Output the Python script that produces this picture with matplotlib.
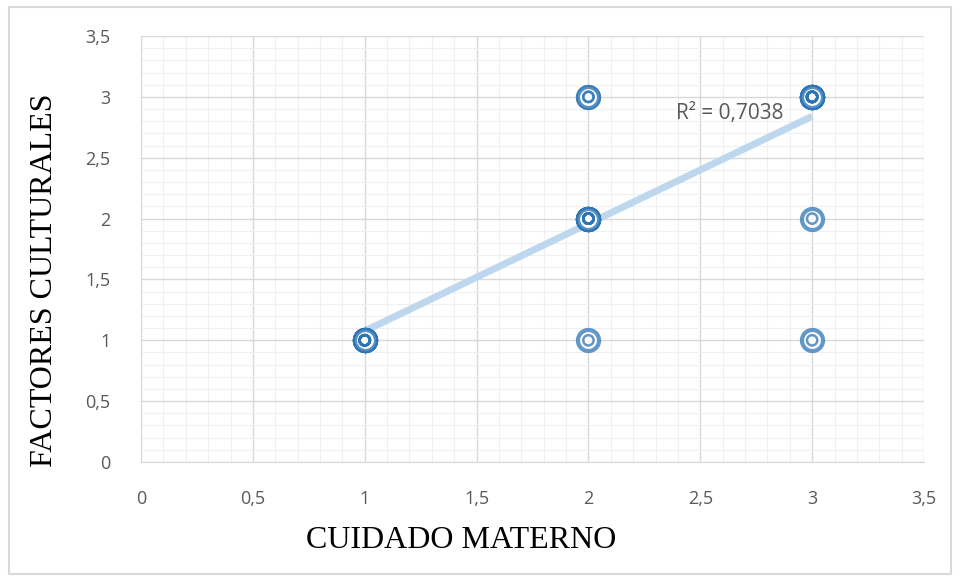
import matplotlib.pyplot as plt
from matplotlib.ticker import MultipleLocator, FuncFormatter
from matplotlib.patches import Rectangle
import numpy as np

# observations (repeated pairs overlap on the grid)
pairs = [(1, 1)] * 10 + [(2, 1)] * 1 + [(2, 2)] * 10 + [(2, 3)] * 2 \
    + [(3, 1)] * 1 + [(3, 2)] * 1 + [(3, 3)] * 12
cuidado = [p[0] for p in pairs]
factores = [p[1] for p in pairs]
r2_label = "R² = 0,7038"
ticks = [0, 0.5, 1, 1.5, 2, 2.5, 3, 3.5]

blue = '#2E75B6'
grey = '#595959'

fig = plt.figure(figsize=(9.6, 5.81), dpi=100)
ax = fig.add_axes([0.1469, 0.2048, 0.8156, 0.7332])

# trend line (linear fit)
m, b = np.polyfit(cuidado, factores, 1)
xs = np.array([min(cuidado), max(cuidado)])
ax.plot(xs, m * xs + b, color='#BDD7EE', lw=5, solid_capstyle='butt', zorder=2)

# markers: outer ring + inner ring
ax.scatter(cuidado, factores, s=230, facecolor='white', edgecolor=blue,
           linewidths=3, alpha=0.75, zorder=3)
ax.scatter(cuidado, factores, s=55, facecolor='none', edgecolor=blue,
           linewidths=1.8, alpha=0.75, zorder=4)

ax.text(2.39, 2.86, r2_label, fontsize=15, color=grey, va='center',
        family='Open Sans', zorder=5)

ax.set_xlim(0, 3.5)
ax.set_ylim(0, 3.5)
ax.set_xticks(ticks)
ax.set_yticks(ticks)
fmt = FuncFormatter(lambda v, p: ('%g' % v).replace('.', ','))
ax.xaxis.set_major_formatter(fmt)
ax.yaxis.set_major_formatter(fmt)
ax.xaxis.set_minor_locator(MultipleLocator(0.1))
ax.yaxis.set_minor_locator(MultipleLocator(0.1))

ax.grid(which='major', color='#D9D9D9', lw=1)
ax.grid(which='minor', color='#F0F0F0', lw=0.8)
ax.set_axisbelow(True)
for s in ax.spines.values():
    s.set_visible(False)
ax.spines['left'].set_visible(True)
ax.spines['bottom'].set_visible(True)
ax.spines['left'].set_color('#D9D9D9')
ax.spines['bottom'].set_color('#D9D9D9')

ax.tick_params(which='both', length=0)
ax.tick_params(axis='x', pad=20, labelsize=13, labelcolor=grey)
ax.tick_params(axis='y', pad=22, labelsize=13, labelcolor=grey)
for lab in ax.get_xticklabels() + ax.get_yticklabels():
    lab.set_family('Open Sans')

# axis titles, placed as in the original (not centred on the plot)
fig.text(461 / 960, 1 - 541 / 581, 'CUIDADO MATERNO', family='Liberation Serif',
         fontsize=23, ha='center', va='center')
fig.text(45 / 960, 1 - 280 / 581, 'FACTORES CULTURALES', family='Liberation Serif',
         fontsize=23, ha='center', va='center', rotation=90)

# chart frame
fig.patches.append(Rectangle((0.009, 0.012), 0.982, 0.976, transform=fig.transFigure,
                             fill=False, edgecolor='#D9D9D9', lw=1.5))

fig.savefig('out.png')
